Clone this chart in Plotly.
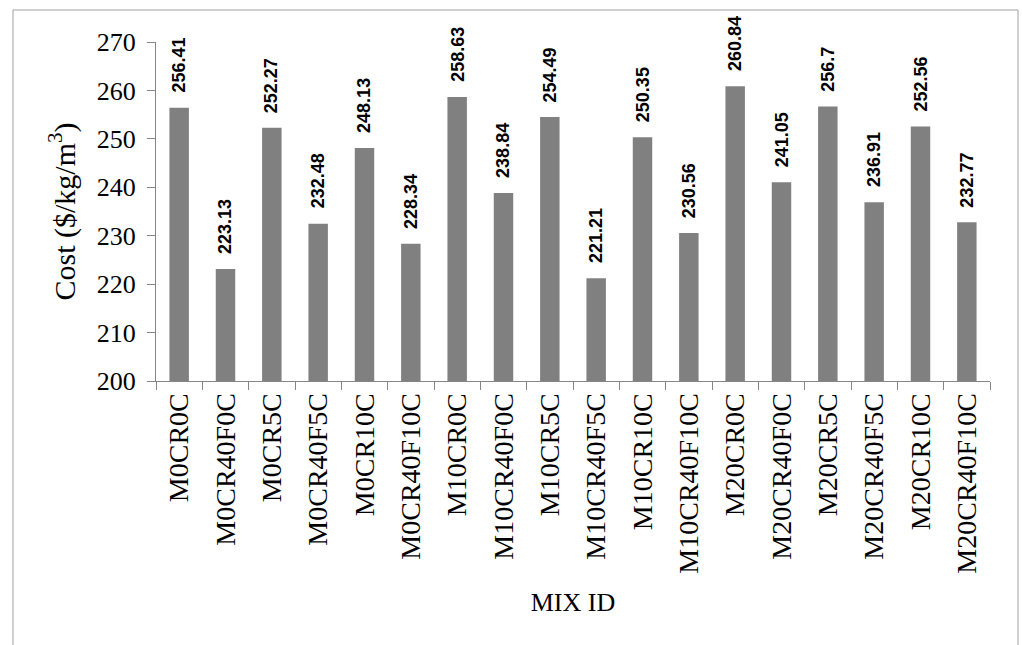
import plotly.graph_objects as go

# Mix identifiers and their unit cost ($/kg/m3)
mix_ids = [
    "M0CR0C", "M0CR40F0C", "M0CR5C", "M0CR40F5C", "M0CR10C", "M0CR40F10C",
    "M10CR0C", "M10CR40F0C", "M10CR5C", "M10CR40F5C", "M10CR10C", "M10CR40F10C",
    "M20CR0C", "M20CR40F0C", "M20CR5C", "M20CR40F5C", "M20CR10C", "M20CR40F10C",
]
cost = [
    256.41, 223.13, 252.27, 232.48, 248.13, 228.34,
    258.63, 238.84, 254.49, 221.21, 250.35, 230.56,
    260.84, 241.05, 256.7, 236.91, 252.56, 232.77,
]
y_ticks = [200, 210, 220, 230, 240, 250, 260, 270]

SERIF = "Palatino Linotype, Book Antiqua, Liberation Serif, serif"

fig = go.Figure(
    go.Bar(
        x=mix_ids,
        y=cost,
        marker=dict(color="#808080", line=dict(width=0)),
        width=0.42,
    )
)

# Value labels, rotated, sitting above each bar
for mix, val in zip(mix_ids, cost):
    fig.add_annotation(
        x=mix, y=val, text=f"<b>{val:g}</b>", textangle=-90,
        showarrow=False, yanchor="bottom", yshift=13,
        font=dict(family="Liberation Sans, Arial, sans-serif", size=18, color="#000000"),
    )

# Light frame around the chart area
fig.add_shape(
    type="rect", xref="paper", yref="paper",
    x0=-0.1715, x1=1.0336, y0=-1.0, y1=1.0944,
    line=dict(color="#a0a0a0", width=1), fillcolor="rgba(0,0,0,0)", layer="below",
)

fig.update_layout(
    width=1022, height=645,
    margin=dict(l=156, r=32, t=42, b=264),
    paper_bgcolor="white", plot_bgcolor="white",
    showlegend=False,
    font=dict(family=SERIF, color="#000000"),
)
fig.update_xaxes(
    type="category",
    tickangle=-90,
    tickfont=dict(family=SERIF, size=28),
    showline=True, linecolor="#868686", linewidth=1,
    ticks="outside", tickson="boundaries", ticklen=8, tickcolor="#868686",
    showgrid=False,
    title=dict(text="MIX ID", font=dict(family=SERIF, size=26), standoff=20),
)
fig.update_yaxes(
    range=[200, 270],
    tickvals=y_ticks,
    tickfont=dict(family=SERIF, size=26),
    showline=True, linecolor="#868686", linewidth=1,
    ticks="outside", ticklen=8, tickcolor="#868686",
    ticklabelstandoff=6,
    showgrid=False, zeroline=False,
    title=dict(text="Cost ($/kg/m<sup>3</sup>)", font=dict(family=SERIF, size=30), standoff=12),
)

fig.write_html("out.html")
